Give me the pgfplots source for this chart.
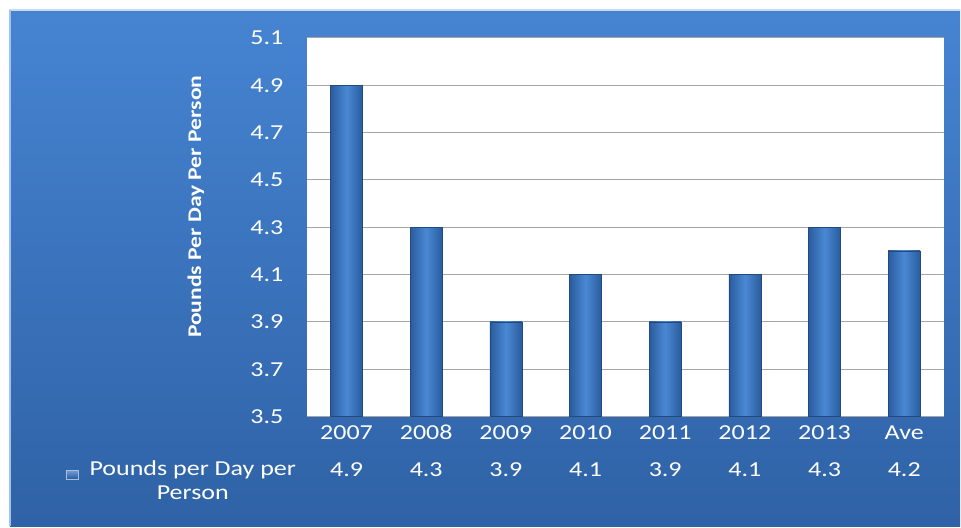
\documentclass[border=0pt]{standalone}
\usepackage{pgfplots}
\pgfplotsset{compat=1.18}
\usepackage{fontspec}
\setmainfont{Carlito}[FakeStretch=1.22]
\definecolor{bgtop}{HTML}{4684D2}
\definecolor{bgbot}{HTML}{2F62A6}
\definecolor{bardark}{HTML}{2A5C9E}
\definecolor{barlight}{HTML}{4A88D4}
\definecolor{gridc}{HTML}{A6A6A6}
\pgfplotsset{barstyle/.style={draw=bardark!80!black, line width=0.4pt, left color=bardark, right color=bardark, middle color=barlight, bar shift=0pt}}
\begin{document}
\begin{tikzpicture}
\begin{scope}[x=0.75pt,y=0.75pt]
\fill[white] (0,0) rectangle (961,527);
\shade[top color=bgtop,bottom color=bgbot] (10,0) rectangle (961,517);
\draw[white!70!bgtop,line width=1.5pt] (10,517) -- (961,517);
\draw[white!50!bgtop,line width=1pt] (10,0) -- (10,517);
\end{scope}
\begin{axis}[
  at={(230.25pt,82.5pt)}, anchor=south west,
  scale only axis, width=478.5pt, height=284.25pt,
  xmin=-0.5, xmax=7.5, ymin=3.5, ymax=5.1,
  ytick={3.5,3.7,...,5.1},
  yticklabel style={/pgf/number format/fixed,/pgf/number format/precision=1,/pgf/number format/fixed zerofill},
  xtick={0,...,7},
  xticklabels={2007,2008,2009,2010,2011,2012,2013,Ave},
  /pgf/number format/assume math mode=true,
  tick label style={font=\fontsize{16}{19}\selectfont, text=white},
  xticklabel style={text height=11pt, text depth=0pt, yshift=-3pt},
  yticklabel style={xshift=-14pt},
  major tick length=0pt,
  ymajorgrids, grid style={gridc, line width=0.8pt},
  axis x line*=bottom, axis y line*=left,
  x axis line style={gridc,line width=0.8pt,-},
  y axis line style={draw=none,-},
  axis background/.style={fill=white},
  ybar, bar width=24pt,
  clip=false,
]
\addplot[barstyle] coordinates {(0,4.9)};
\addplot[barstyle] coordinates {(1,4.3)};
\addplot[barstyle] coordinates {(2,3.9)};
\addplot[barstyle] coordinates {(3,4.1)};
\addplot[barstyle] coordinates {(4,3.9)};
\addplot[barstyle] coordinates {(5,4.1)};
\addplot[barstyle] coordinates {(6,4.3)};
\addplot[barstyle] coordinates {(7,4.2)};
\end{axis}
\begin{scope}[x=0.75pt,y=0.75pt]
\node[text=white, font=\fontsize{14.5}{17}\selectfont\bfseries, rotate=90] at (196,320) {Pounds Per Day Per Person};
\node[top color=barlight!80!white, bottom color=bardark, draw=white!60!bardark, minimum width=9pt, minimum height=6.5pt, inner sep=0pt] at (72,52) {};
\node[text=white, font=\fontsize{16}{19}\selectfont, align=center] at (193,46) {Pounds per Day per\\[-1pt] Person};
\foreach \v [count=\i from 0] in {4.9,4.3,3.9,4.1,3.9,4.1,4.3,4.2}
  \node[text=white, font=\fontsize{16}{19}\selectfont] at ({346.9+79.75*\i},57) {\v};
\end{scope}
\end{tikzpicture}
\end{document}
